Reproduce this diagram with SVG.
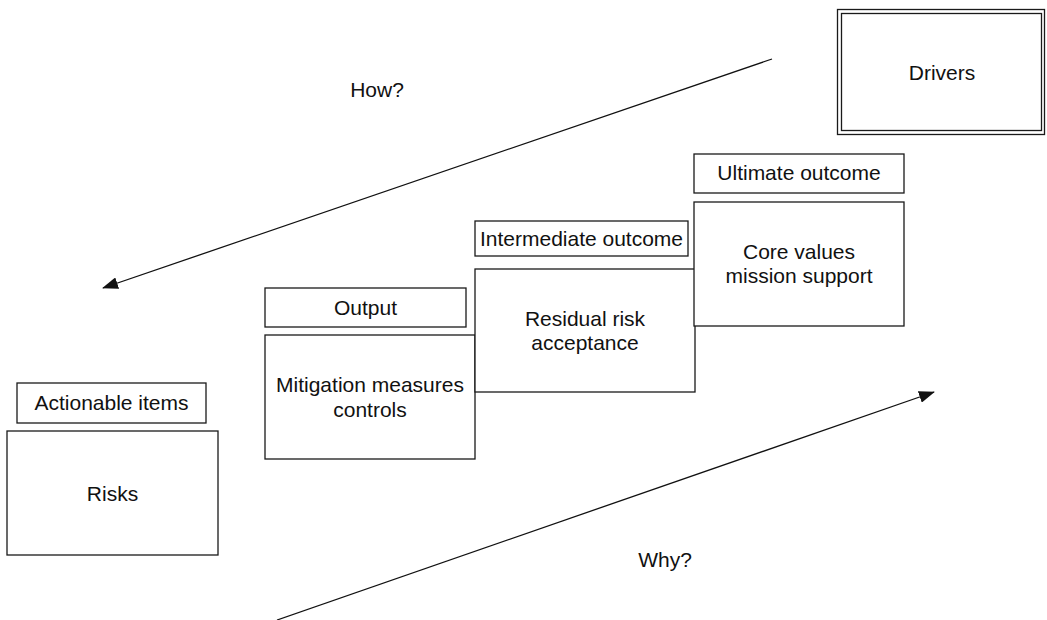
<svg xmlns="http://www.w3.org/2000/svg" width="1047" height="620" viewBox="0 0 1047 620">
  <defs>
    <style>
      .box { fill: #ffffff; stroke: #1a1a1a; stroke-width: 1.3; }
      .lbl { font-family: "Liberation Sans", Arial, Helvetica, sans-serif; font-size: 21px; fill: #111111; text-anchor: middle; }
      .arrow { fill: none; stroke: #111111; stroke-width: 1.3; }
    </style>
    <marker id="head" viewBox="0 0 16 12" refX="15" refY="6" markerWidth="16" markerHeight="12" markerUnits="userSpaceOnUse" orient="auto">
      <path d="M0,0 L16,6 L0,12 Z" fill="#111111"/>
    </marker>
  </defs>
  <rect width="1047" height="620" fill="#ffffff"/>

  <!-- connectors -->
  <g id="connectors">
    <line id="how-arrow" class="arrow" x1="772" y1="59" x2="103" y2="288" marker-end="url(#head)"/>
    <line id="why-arrow" class="arrow" x1="277" y1="620" x2="934" y2="392" marker-end="url(#head)"/>
  </g>

  <!-- free labels -->
  <text class="lbl" x="377" y="97" font-size="20">How?</text>
  <text class="lbl" x="665" y="567" font-size="20">Why?</text>

  <!-- steps, lowest to highest -->
  <g id="actionable-items">
    <rect class="box" x="17" y="383" width="189" height="40"/>
    <text class="lbl" x="111.5" y="410">Actionable items</text>
  </g>
  <g id="risks">
    <rect class="box" x="7" y="431" width="211" height="124"/>
    <text class="lbl" x="112.5" y="501">Risks</text>
  </g>

  <g id="output">
    <rect class="box" x="265" y="288" width="201" height="39"/>
    <text class="lbl" x="365.5" y="315">Output</text>
  </g>
  <g id="mitigation">
    <rect class="box" x="265" y="335" width="210" height="124"/>
    <text class="lbl" x="370" y="392">Mitigation measures</text>
    <text class="lbl" x="370" y="417">controls</text>
  </g>

  <g id="intermediate-outcome">
    <rect class="box" x="475" y="221" width="213" height="35"/>
    <text class="lbl" x="581.5" y="246">Intermediate outcome</text>
  </g>
  <g id="residual-risk">
    <rect class="box" x="475" y="269" width="220" height="123"/>
    <text class="lbl" x="585" y="326">Residual risk</text>
    <text class="lbl" x="585" y="350">acceptance</text>
  </g>

  <g id="ultimate-outcome">
    <rect class="box" x="694" y="154" width="210" height="39"/>
    <text class="lbl" x="799" y="180">Ultimate outcome</text>
  </g>
  <g id="core-values">
    <rect class="box" x="694" y="202" width="210" height="124"/>
    <text class="lbl" x="799" y="259">Core values</text>
    <text class="lbl" x="799" y="283">mission support</text>
  </g>

  <g id="drivers">
    <rect class="box" x="837.5" y="9.5" width="207" height="125"/>
    <rect class="box" x="841.5" y="13.5" width="200" height="117"/>
    <text class="lbl" x="942" y="80">Drivers</text>
  </g>
</svg>
